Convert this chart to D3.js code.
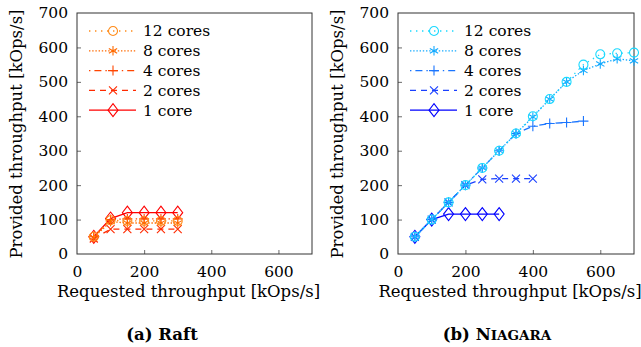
<!DOCTYPE html>
<html>
<head>
<meta charset="utf-8">
<script src="https://cdn.jsdelivr.net/npm/d3@7"></script>
<style>
  body { margin: 0; background: #fff; }
  svg text { font-family: "DejaVu Serif", serif; fill: #000; }
</style>
</head>
<body>
<svg id="chart" width="641" height="347"></svg>
<script>
// series labels, top of legend first
const seriesNames = ["12 cores", "8 cores", "4 cores", "2 cores", "1 core"];

// Raft: requested vs provided throughput [kOps/s]
const raftRequested = [50, 100, 150, 200, 250, 300];
const raft12 = [50, 98, 96, 96, 96, 96];
const raft8 = [48, 94, 90, 90, 90, 90];
const raft4 = [50, 100, 102, 102, 102, 102];
const raft2 = [45, 72, 72, 72, 72, 72];
const raft1 = [50, 103, 120, 120, 120, 120];

// Niagara
const niaRequested12 = [50, 100, 150, 200, 250, 300, 350, 400, 450, 500, 550, 600, 650, 700];
const nia12 = [50, 100, 150, 200, 250, 300, 350, 400, 450, 500, 550, 580, 583, 585];
const niaRequested8 = [50, 100, 150, 200, 250, 300, 350, 400, 450, 500, 550, 600, 650, 700];
const nia8 = [50, 100, 150, 200, 250, 300, 350, 398, 450, 500, 533, 552, 567, 561];
const niaRequested4 = [50, 100, 150, 200, 250, 300, 350, 400, 450, 500, 550];
const nia4 = [50, 100, 150, 200, 250, 300, 350, 371, 379, 382, 386];
const niaRequested2 = [50, 100, 150, 200, 250, 300, 350, 400];
const nia2 = [50, 100, 150, 200, 217, 219, 219, 219];
const niaRequested1 = [50, 100, 150, 200, 250, 300];
const nia1 = [50, 100, 116, 116, 116, 116];

const xTicks = [0, 200, 400, 600];
const yTicks = [0, 100, 200, 300, 400, 500, 600, 700];

const svg = d3.select("#chart");

// marker shapes (unfilled, like pgfplots)
function markerPath(kind) {
  const p = d3.path();
  if (kind === "circle") {
    p.moveTo(4.5, 0); p.arc(0, 0, 4.5, 0, 2 * Math.PI);
  } else if (kind === "star") {
    const r = 4.8, t = r / 2, u = t * Math.sqrt(3);
    p.moveTo(0, r); p.lineTo(0, -r);
    p.moveTo(-u, -t); p.lineTo(u, t);
    p.moveTo(-u, t); p.lineTo(u, -t);
  } else if (kind === "plus") {
    p.moveTo(-5, 0); p.lineTo(5, 0);
    p.moveTo(0, -5); p.lineTo(0, 5);
  } else if (kind === "x") {
    p.moveTo(-4, -4); p.lineTo(4, 4);
    p.moveTo(-4, 4); p.lineTo(4, -4);
  } else if (kind === "diamond") {
    p.moveTo(0, -6.5); p.lineTo(5, 0); p.lineTo(0, 6.5); p.lineTo(-5, 0); p.closePath();
  }
  return p.toString();
}

const markers = ["circle", "star", "plus", "x", "diamond"];
const dashes = ["1.4,4.6", "1.4,1.8", "1.4,4,7,4", "6,5", null];

function panel(opts) {
  const x = d3.scaleLinear().domain([0, 700]).range([opts.left, opts.right]);
  const y = d3.scaleLinear().domain([0, 700]).range([254, 13]);
  const g = svg.append("g");

  // axes with inward ticks
  const ya = g.append("g").attr("transform", `translate(${opts.left},0)`)
    .call(d3.axisLeft(y).tickValues(yTicks).tickSizeInner(-4).tickSizeOuter(0).tickPadding(9));
  const xa = g.append("g").attr("transform", "translate(0,254)")
    .call(d3.axisBottom(x).tickValues(xTicks).tickSizeInner(-4).tickSizeOuter(0).tickPadding(12));
  [ya, xa].forEach(a => {
    a.select(".domain").remove();
    a.selectAll("line").attr("stroke", "#444").attr("stroke-width", 0.8);
    a.selectAll("text").attr("font-size", 15.5).attr("font-family", "DejaVu Serif");
  });
  ya.selectAll(".tick").filter(d => d === 0 || d === 700).select("line").remove();
  xa.selectAll(".tick").filter(d => d === 0).select("line").remove();

  g.append("rect")
    .attr("x", opts.left).attr("y", 13)
    .attr("width", opts.right - opts.left).attr("height", 254 - 13)
    .attr("fill", "none").attr("stroke", "#333").attr("stroke-width", 1);

  const line = d3.line().x(d => x(d[0])).y(d => y(d[1]));

  // draw 1 core first, 12 cores last
  for (let i = opts.series.length - 1; i >= 0; i--) {
    const s = opts.series[i];
    const pts = s.req.map((r, j) => [r, s.val[j]]);
    g.append("path").datum(pts)
      .attr("d", line).attr("fill", "none")
      .attr("stroke", opts.colors[i]).attr("stroke-width", 1.3)
      .attr("stroke-dasharray", dashes[i]);
    g.selectAll(null).data(pts).enter().append("path")
      .attr("transform", d => `translate(${x(d[0])},${y(d[1])})`)
      .attr("d", markerPath(markers[i]))
      .attr("fill", "none").attr("stroke", opts.colors[i]).attr("stroke-width", 1.1);
  }

  // legend
  seriesNames.forEach((name, i) => {
    const ly = 31 + i * 19.8;
    const lx = opts.left;
    g.append("line")
      .attr("x1", lx + 12).attr("x2", lx + 59).attr("y1", ly).attr("y2", ly)
      .attr("stroke", opts.colors[i]).attr("stroke-width", 1.3)
      .attr("stroke-dasharray", dashes[i]);
    g.append("path")
      .attr("transform", `translate(${lx + 36},${ly})`)
      .attr("d", markerPath(markers[i]))
      .attr("fill", "none").attr("stroke", opts.colors[i]).attr("stroke-width", 1.1);
    g.append("text")
      .attr("x", lx + 66).attr("y", ly).attr("dy", "0.35em")
      .attr("font-size", 15.5).text(name);
  });

  // axis labels
  g.append("text")
    .attr("x", (opts.left + opts.right) / 2 - 6).attr("y", 297)
    .attr("text-anchor", "middle").attr("font-size", 16.5)
    .text("Requested throughput [kOps/s]");
  g.append("text")
    .attr("transform", `translate(${opts.left - 55},134) rotate(-90)`)
    .attr("text-anchor", "middle").attr("font-size", 16.5)
    .text("Provided throughput [kOps/s]");

  // sub-caption
  const cap = g.append("text")
    .attr("x", opts.capX).attr("y", 340)
    .attr("text-anchor", "middle").attr("font-size", 16.5).attr("font-weight", "bold");
  cap.append("tspan").text(opts.capPrefix);
  cap.append("tspan").text(opts.capMain);
  if (opts.capSmall) cap.append("tspan").attr("font-size", 13.5).text(opts.capSmall);
}

panel({
  left: 77, right: 312, capX: 162,
  colors: ["#ff8c1a", "#ff6a00", "#ff4500", "#ff2a00", "#ff0000"],
  series: [
    { req: raftRequested, val: raft12 },
    { req: raftRequested, val: raft8 },
    { req: raftRequested, val: raft4 },
    { req: raftRequested, val: raft2 },
    { req: raftRequested, val: raft1 }
  ],
  capPrefix: "(a) ", capMain: "Raft", capSmall: null
});

panel({
  left: 398, right: 634, capX: 497,
  colors: ["#1ad9ff", "#14aaff", "#1a75ff", "#1a40ff", "#0000ff"],
  series: [
    { req: niaRequested12, val: nia12 },
    { req: niaRequested8, val: nia8 },
    { req: niaRequested4, val: nia4 },
    { req: niaRequested2, val: nia2 },
    { req: niaRequested1, val: nia1 }
  ],
  capPrefix: "(b) ", capMain: "N", capSmall: "IAGARA"
});
</script>
</body>
</html>
